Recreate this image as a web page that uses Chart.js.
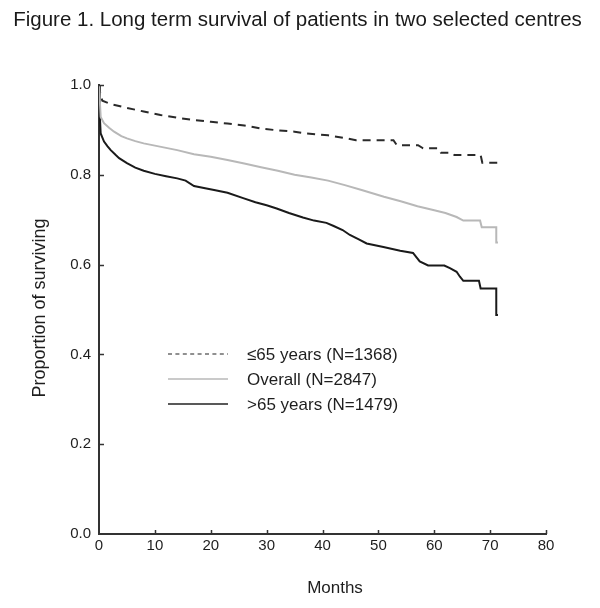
<!DOCTYPE html>
<html>
<head>
<meta charset="utf-8">
<script src="https://cdn.jsdelivr.net/npm/chart.js@4.4.0/dist/chart.umd.min.js"></script>
<style>
  body { margin: 0; background: #fff; }
  #wrap { width: 600px; height: 608px; position: relative; }
</style>
</head>
<body>
<div id="wrap"><canvas id="survivalChart"></canvas></div>
<script>
// Kaplan-Meier curves (months, proportion surviving)
// repeated months mark the visible vertical drops in the tail
var youngMonths   = [0, 0.3, 0.6, 2, 5, 8, 11, 14, 17, 20, 23, 26, 29, 32, 35, 37, 41, 44, 46, 52.7, 53.3, 57.1, 58, 60.8, 61.2, 63.2, 63.6, 68.3, 68.6, 71.4];
var youngSurvival = [1.0, 0.975, 0.965, 0.958, 0.949, 0.941, 0.933, 0.927, 0.922, 0.918, 0.914, 0.910, 0.903, 0.899, 0.896, 0.892, 0.888, 0.882, 0.877, 0.877, 0.866, 0.866, 0.859, 0.859, 0.849, 0.849, 0.844, 0.844, 0.827, 0.827];

var overallMonths   = [0, 0.3, 0.9, 1.8, 2.7, 4, 5, 6.5, 8, 10, 12, 14, 17, 20, 23, 26, 29, 32, 35, 38, 41, 44, 47, 51, 54, 57, 60, 62, 64, 65.2, 68.2, 68.5, 71.1, 71.1, 71.4];
var overallSurvival = [1.0, 0.929, 0.915, 0.905, 0.896, 0.886, 0.881, 0.875, 0.870, 0.865, 0.860, 0.855, 0.846, 0.840, 0.833, 0.825, 0.817, 0.809, 0.800, 0.794, 0.787, 0.777, 0.766, 0.751, 0.741, 0.730, 0.721, 0.715, 0.706, 0.698, 0.698, 0.683, 0.683, 0.649, 0.649];

var oldMonths   = [0, 0.15, 0.3, 0.9, 1.5, 2.1, 3, 3.6, 5, 6.5, 8, 10, 12, 14, 15.5, 17, 19, 20.6, 23, 25.8, 28, 30, 31.8, 34, 36.5, 38.5, 40.7, 42, 43.6, 44.9, 46.5, 47.9, 50.9, 53.9, 56.2, 57.4, 58.9, 61.8, 62.8, 64, 64.6, 65.2, 68.0, 68.3, 71.1, 71.1, 71.4];
var oldSurvival = [1.0, 0.93, 0.892, 0.874, 0.864, 0.855, 0.844, 0.837, 0.826, 0.816, 0.809, 0.802, 0.797, 0.792, 0.787, 0.775, 0.770, 0.766, 0.760, 0.748, 0.739, 0.732, 0.725, 0.715, 0.705, 0.698, 0.693, 0.686, 0.677, 0.666, 0.656, 0.647, 0.639, 0.631, 0.626, 0.607, 0.598, 0.598, 0.592, 0.584, 0.573, 0.564, 0.564, 0.547, 0.547, 0.488, 0.488];

var legendLabels = ['\u226465 years (N=1368)', 'Overall (N=2847)', '>65 years (N=1479)'];
var xTickValues = [0, 10, 20, 30, 40, 50, 60, 70, 80];
var yTickValues = [0, 0.2, 0.4, 0.6, 0.8, 1.0];

var FONT = '"Liberation Sans", Arial, sans-serif';

function toPoints(xs, ys) {
    return xs.map(function(x, i) { return { x: x, y: ys[i] }; });
}

// title, legend, axis titles and the inward tick marks
var extrasPlugin = {
    id: 'extras',
    afterDraw: function(chart) {
        var ctx = chart.ctx;
        var area = chart.chartArea;
        var xs = chart.scales.x;
        var ys = chart.scales.y;
        ctx.save();

        ctx.strokeStyle = '#333';
        ctx.lineWidth = 1.5;
        xTickValues.forEach(function(v) {
            if (v === 0) return;
            var px = Math.round(xs.getPixelForValue(v)) + 0.5;
            ctx.beginPath();
            ctx.moveTo(px, area.bottom);
            ctx.lineTo(px, area.bottom - 4);
            ctx.stroke();
        });
        yTickValues.forEach(function(v) {
            if (v === 0) return;
            var py = Math.round(ys.getPixelForValue(v)) + 0.5;
            ctx.beginPath();
            ctx.moveTo(area.left, py);
            ctx.lineTo(area.left + 5, py);
            ctx.stroke();
        });

        // title
        ctx.fillStyle = '#1a1a1a';
        ctx.font = '20.5px ' + FONT;
        ctx.textAlign = 'center';
        ctx.textBaseline = 'middle';
        ctx.fillText('Figure 1. Long term survival of patients in two selected centres', 297.5, 20);

        // legend
        var styles = [
            { color: '#222', width: 1.2, dash: [4, 3.4] },
            { color: '#b8b8b8', width: 1.5, dash: [] },
            { color: '#222', width: 1.5, dash: [] }
        ];
        var rowY = [354, 379, 404];
        ctx.font = '17px ' + FONT;
        ctx.textAlign = 'left';
        legendLabels.forEach(function(label, i) {
            ctx.strokeStyle = styles[i].color;
            ctx.lineWidth = styles[i].width;
            ctx.setLineDash(styles[i].dash);
            ctx.beginPath();
            ctx.moveTo(168, rowY[i]);
            ctx.lineTo(228, rowY[i]);
            ctx.stroke();
            ctx.setLineDash([]);
            ctx.fillStyle = '#1e1e1e';
            ctx.fillText(label, 247, rowY[i] + 1);
        });

        // axis titles
        ctx.fillStyle = '#1e1e1e';
        ctx.font = '17px ' + FONT;
        ctx.textAlign = 'center';
        ctx.fillText('Months', 335, 588);
        ctx.translate(40, 308);
        ctx.rotate(-Math.PI / 2);
        ctx.font = '18px ' + FONT;
        ctx.fillText('Proportion of surviving', 0, 0);

        ctx.restore();
    }
};

var ctx = document.getElementById('survivalChart').getContext('2d');
var chart = new Chart(ctx, {
    type: 'scatter',
    data: {
        datasets: [
            {
                label: legendLabels[1],
                data: toPoints(overallMonths, overallSurvival),
                showLine: true,
                borderColor: '#b8b8b8',
                borderWidth: 2,
                pointRadius: 0
            },
            {
                label: legendLabels[0],
                data: toPoints(youngMonths, youngSurvival),
                showLine: true,
                borderColor: '#2a2a2a',
                borderWidth: 2,
                borderDash: [8, 6],
                pointRadius: 0
            },
            {
                label: legendLabels[2],
                data: toPoints(oldMonths, oldSurvival),
                showLine: true,
                borderColor: '#1a1a1a',
                borderWidth: 2,
                pointRadius: 0
            }
        ]
    },
    options: {
        responsive: true,
        maintainAspectRatio: false,
        animation: false,
        layout: { padding: { left: 0, right: 54, top: 85, bottom: 0 } },
        plugins: {
            legend: { display: false },
            tooltip: { enabled: false },
            title: { display: false }
        },
        scales: {
            x: {
                type: 'linear',
                min: 0,
                max: 80,
                afterFit: function(scale) { scale.height = 74; },
                afterBuildTicks: function(scale) {
                    scale.ticks = xTickValues.map(function(v) { return { value: v }; });
                },
                grid: { display: false, drawTicks: false },
                border: { display: true, color: '#333', width: 2 },
                ticks: {
                    padding: 3,
                    color: '#1e1e1e',
                    font: { family: FONT, size: 15 },
                    maxRotation: 0
                }
            },
            y: {
                type: 'linear',
                min: 0,
                max: 1,
                afterFit: function(scale) { scale.width = 99; },
                afterBuildTicks: function(scale) {
                    scale.ticks = yTickValues.map(function(v) { return { value: v }; });
                },
                grid: { display: false, drawTicks: false },
                border: { display: true, color: '#333', width: 2 },
                ticks: {
                    padding: 8,
                    color: '#1e1e1e',
                    font: { family: FONT, size: 15 },
                    callback: function(v) { return v.toFixed(1); }
                }
            }
        }
    },
    plugins: [extrasPlugin]
});
</script>
</body>
</html>
